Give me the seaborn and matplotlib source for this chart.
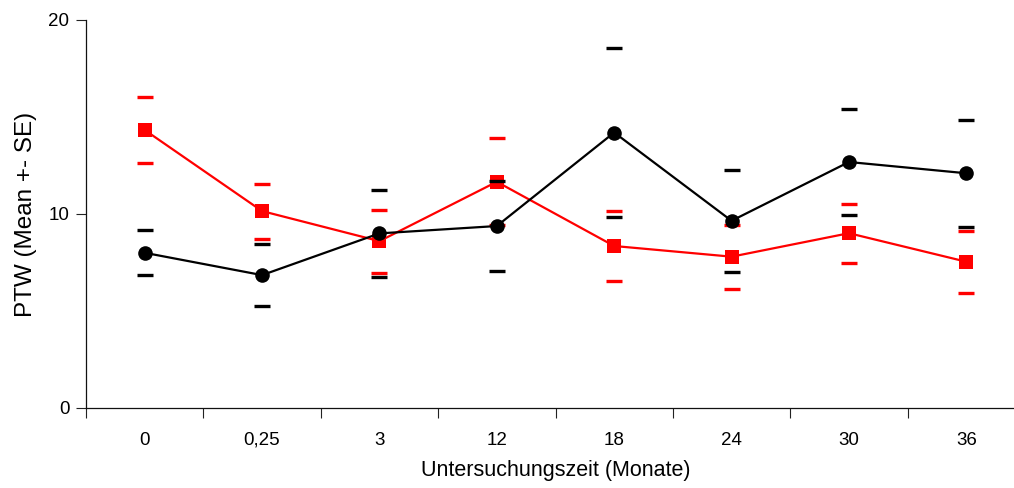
"""
PTW over time (mean +- SE), two groups
"""

import numpy as np
import pandas as pd
import matplotlib
matplotlib.use("Agg")
import matplotlib.pyplot as plt
import seaborn as sns

# data
zeit_labels = ["0", "0,25", "3", "12", "18", "24", "30", "36"]

black_mean = [8.0, 6.85, 9.0, 9.38, 14.2, 9.65, 12.68, 12.1]
black_se = [1.15, 1.59, 2.25, 2.32, 4.35, 2.63, 2.75, 2.75]

red_mean = [14.33, 10.15, 8.6, 11.66, 8.35, 7.8, 9.01, 7.54]
red_se = [1.70, 1.42, 1.63, 2.25, 1.82, 1.65, 1.52, 1.59]

sns.set_style("white", {
    "text.color": "black",
    "axes.labelcolor": "black",
    "xtick.color": "black",
    "ytick.color": "black",
})
plt.rcParams["font.family"] = ["Liberation Sans", "DejaVu Sans"]

fig = plt.figure(figsize=(10.14, 4.88), dpi=100)
ax = fig.add_axes([86 / 1014, 80 / 488, 939 / 1014, 388 / 488])

df = pd.DataFrame({
    "zeit": zeit_labels * 2,
    "mean": red_mean + black_mean,
    "se": red_se + black_se,
    "gruppe": ["rot"] * len(zeit_labels) + ["schwarz"] * len(zeit_labels),
})

series = [
    ("rot", "#ff0000", "s", 10.5),
    ("schwarz", "#000000", "o", 10.5),
]

for name, color, marker, msize in series:
    sub = df[df["gruppe"] == name]
    sns.lineplot(
        data=sub, x="zeit", y="mean", ax=ax, sort=False,
        color=color, linewidth=1.6, marker=marker, markersize=msize,
        markeredgewidth=0, legend=False,
    )
    # SE dashes above and below each mean
    for sign in (1, -1):
        ax.plot(
            sub["zeit"], sub["mean"] + sign * sub["se"],
            linestyle="none", marker="_", markersize=11.5,
            markeredgewidth=2.4, color=color,
        )

ax.set_xlim(-0.5, len(zeit_labels) - 0.5)
ax.set_ylim(0, 20)
ax.set_yticks([0, 10, 20])

# x ticks sit between the categories, labels at the centres
ax.set_xticks(np.arange(len(zeit_labels)))
ax.set_xticklabels(zeit_labels)
ax.set_xticks(np.arange(len(zeit_labels)) - 0.5, minor=True)
ax.tick_params(axis="x", which="major", length=0, pad=17, labelsize=13.5)
ax.tick_params(axis="x", which="minor", length=7, width=0.8,
               color="#222222", direction="out", bottom=True)
ax.tick_params(axis="y", length=7, width=0.8, color="#222222",
               direction="out", left=True, pad=5, labelsize=13.5)

for side in ("top", "right"):
    ax.spines[side].set_visible(False)
for side in ("left", "bottom"):
    ax.spines[side].set_color("#111111")
    ax.spines[side].set_linewidth(0.9)

ax.set_xlabel("Untersuchungszeit (Monate)", fontsize=15.5, labelpad=8)
ax.set_ylabel("PTW (Mean +- SE)", fontsize=17.5, labelpad=8)

fig.savefig("out.png", dpi=100)
